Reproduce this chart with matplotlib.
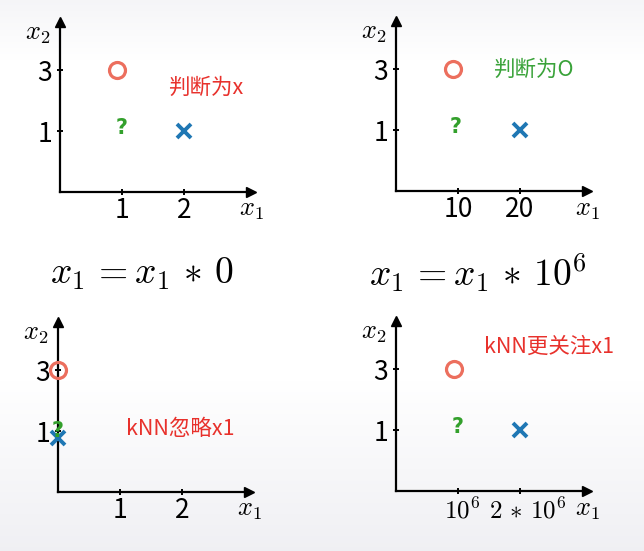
import numpy as np
import matplotlib.pyplot as plt
from matplotlib.transforms import ScaledTranslation

plt.rcParams['mathtext.fontset'] = 'cm'
plt.rcParams['font.family'] = ['Noto Sans CJK SC', 'DejaVu Sans']

# panels: top-left, top-right, bottom-left, bottom-right
x_ticks = [[1, 2], [10, 20], [1, 2], [1e6, 2e6]]
x_ticklabels = [['1', '2'], ['10', '20'], ['1', '2'], [r'$10^6$', r'$2\,*\,10^6$']]
x_max = [3.08, 30.8, 3.08, 3.08e6]
y_ticks = [1, 2]
y_ticklabels = ['1', '3']

circle_x = [0.92, 9.2, 0.0, 0.93e6]
circle_y = [2, 2, 2, 2]
query_x = [1.0, 9.6, 0.0, 1.0e6]
query_y = [1.05, 1.05, 1.0, 1.05]
cross_x = [2, 20, 0.0, 2e6]
cross_y = [1, 1, 0.88, 1]

notes = ['判断为x', '判断为O', 'kNN忽略x1', 'kNN更关注x1']
note_colors = ['#e8312c', '#3aa33a', '#e8312c', '#e8312c']
note_pos = [(0.765, 0.61), (0.72, 0.71), (0.64, 0.37), (0.80, 0.85)]

formulas = [r'$x_1 \,= x_1 \,*\, 0$', r'$x_1 \,= x_1 \,*\, 10^6$']

W, H = 644, 551
fig = plt.figure(figsize=(W / 100, H / 100), dpi=100)

# soft grey gradient background like the slide
bg = fig.add_axes([0, 0, 1, 1], zorder=-10)
rows = np.arange(H)
shade = np.interp(rows, [0, 60, 380, H - 1], [0.962, 1.0, 1.0, 0.94])
img = np.stack([shade, shade, shade + (1 - shade) * 0.25], axis=-1)
bg.imshow(img[:, None, :].repeat(2, axis=1), aspect='auto', extent=[0, 1, 0, 1])
bg.set_axis_off()

origins = [(60, 192), (396, 191), (58, 492), (396, 491)]
aw, ah = 191, 170

for i, (ox, oy) in enumerate(origins):
    ax = fig.add_axes([ox / W, (H - oy) / H, aw / W, ah / H])
    ax.set_facecolor('none')
    ax.set_xlim(0, x_max[i])
    ax.set_ylim(0, 2.79)
    for s in ['top', 'right']:
        ax.spines[s].set_visible(False)
    for s in ['left', 'bottom']:
        ax.spines[s].set_linewidth(1.6)
    ax.plot(1, 0, '>k', ms=7, transform=ax.get_yaxis_transform(), clip_on=False)
    ax.plot(0, 1, '^k', ms=7, transform=ax.get_xaxis_transform(), clip_on=False)

    ax.set_xticks(x_ticks[i])
    ax.set_xticklabels(x_ticklabels[i])
    ax.set_yticks(y_ticks)
    ax.set_yticklabels(y_ticklabels)
    ax.tick_params(direction='inout', length=5, width=1.4, labelsize=19, pad=3)
    ax.tick_params(axis='x', pad=1)
    if i == 3:
        ax.tick_params(axis='x', labelsize=18, pad=3)
        # labels sit a little right of their ticks in the original slide
        for lab, dx in zip(ax.get_xticklabels(), [4, 8]):
            lab.set_transform(lab.get_transform() + ScaledTranslation(dx / 100, 0, fig.dpi_scale_trans))

    ax.text(1.0, -0.1, r'$x_1$', transform=ax.transAxes, ha='center', va='center', fontsize=19)
    ax.text(-0.115, 0.94, r'$x_2$', transform=ax.transAxes, ha='center', va='center', fontsize=19)

    ax.plot(circle_x[i], circle_y[i], 'o', ms=11.5, mfc='none', mec='#ec6f5e', mew=2.3, clip_on=False, zorder=5)
    ax.plot(cross_x[i], cross_y[i], 'x', ms=9.5, mec='#1f77b4', mew=2.8, clip_on=False, zorder=5)
    ax.text(query_x[i], query_y[i], '?', color='#33a02c', fontsize=15, fontweight='bold',
            family='DejaVu Sans', ha='center', va='center', zorder=6)

    ax.text(note_pos[i][0], note_pos[i][1], notes[i], color=note_colors[i], fontsize=15.5,
            transform=ax.transAxes, ha='center', va='center')

fig.text(142 / W, 1 - 273 / H, formulas[0], fontsize=27, ha='center', va='center')
fig.text(478 / W, 1 - 273 / H, formulas[1], fontsize=27, ha='center', va='center')

fig.savefig('out.png', dpi=100)
